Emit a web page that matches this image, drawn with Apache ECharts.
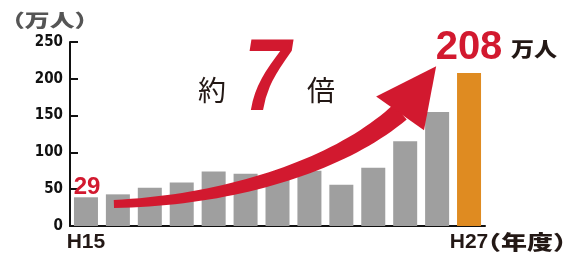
<!DOCTYPE html>
<html><head><meta charset="utf-8">
<script src="https://cdn.jsdelivr.net/npm/echarts@6/dist/echarts.min.js"></script>
<style>html,body{margin:0;padding:0;background:#fff}#c{width:567px;height:260px}</style>
</head><body><div id="c"></div>
<script>
// Data
var categories = ['H15','H16','H17','H18','H19','H20','H21','H22','H23','H24','H25','H26','H27'];
var values = [39, 43, 52, 59, 74, 71, 69, 75, 56, 79, 115, 155, 208];
var yTicks = [0, 50, 100, 150, 200, 250];
var startLabel = '29';
var endLabel = '208';
var unitLabel = '万人';
var yUnit = '（万人）';
var xUnit = '（年度）';
// arrow anchors in data space [category index, value]
var arrowCurve = [[0.875, 30], [4.53, 35], [7.97, 83], [9.84, 155]];
var arrowHead = [[9.09, 176], [10.97, 217], [10.59, 130]];

var RED = '#d2192f';
var CJK = '"Noto Sans CJK JP", "Noto Sans CJK SC", sans-serif';
var chart = echarts.init(document.getElementById('c'), null, {renderer: 'canvas'});
var last = categories.length - 1;
chart.setOption({
  animation: false,
  grid: {left: 70, right: 82, top: 42, bottom: 34},
  xAxis: {
    type: 'category', data: categories,
    axisLine: {lineStyle: {color: '#111', width: 2}},
    axisTick: {inside: true, length: 4, lineStyle: {color: '#111', width: 2}},
    axisLabel: {
      interval: 0, margin: 6, color: '#231815',
      fontFamily: '"Liberation Sans", Arial, sans-serif', fontWeight: 'bold', fontSize: 21,
      formatter: function (v, i) { return (i === 0 || i === last) ? v : ''; }
    }
  },
  yAxis: {
    type: 'value', min: yTicks[0], max: yTicks[yTicks.length - 1], interval: 50,
    axisLine: {show: true, lineStyle: {color: '#111', width: 2}},
    axisTick: {show: true, inside: true, length: 8, lineStyle: {color: '#111', width: 2}},
    splitLine: {show: false},
    axisLabel: {margin: 7, color: '#111', fontFamily: '"DejaVu Sans Condensed", "Liberation Sans", sans-serif', fontWeight: 'bold', fontSize: 15}
  },
  series: [{
    type: 'bar', barWidth: 24,
    data: values.map(function (v, i) {
      return {value: v, itemStyle: {color: i === last ? '#df8b21' : '#9f9f9f'}};
    })
  }]
});

function toPx(p) {
  var x0 = chart.convertToPixel({xAxisIndex: 0}, categories[0]);
  var x1 = chart.convertToPixel({xAxisIndex: 0}, categories[1]);
  var y = chart.convertToPixel({yAxisIndex: 0}, p[1]);
  return [x0 + p[0] * (x1 - x0), y];
}
var c = arrowCurve.map(toPx);
var h = arrowHead.map(toPx);
function bez(t, k) {
  var u = 1 - t;
  return u*u*u*c[0][k] + 3*u*u*t*c[1][k] + 3*u*t*t*c[2][k] + t*t*t*c[3][k];
}
function dbez(t, k) {
  var u = 1 - t;
  return 3*u*u*(c[1][k]-c[0][k]) + 6*u*t*(c[2][k]-c[1][k]) + 3*t*t*(c[3][k]-c[2][k]);
}
var left = [], right = [];
var N = 40;
for (var s = 0; s <= N; s++) {
  var t = s / N;
  var px = bez(t, 0), py = bez(t, 1);
  var dx = dbez(t, 0), dy = dbez(t, 1);
  var len = Math.sqrt(dx*dx + dy*dy);
  var nx = -dy / len, ny = dx / len;
  var w = 4 + 6 * t;
  left.push([px + nx*w, py + ny*w]);
  right.push([px - nx*w, py - ny*w]);
}
var band = left.concat(right.reverse());

chart.setOption({
  graphic: [
    {type: 'polygon', shape: {points: band}, style: {fill: RED}, z: 10},
    {type: 'polygon', shape: {points: h}, style: {fill: RED}, z: 10},
    {type: 'text', x: 0, y: 20, scaleX: 1.38, z: 20, style: {text: yUnit, fill: '#555', font: '900 18px ' + CJK, textAlign: 'left', textVerticalAlign: 'middle'}},
    {type: 'text', x: 475, y: 242, scaleX: 1.3, z: 20, style: {text: xUnit, fill: '#231815', font: '900 20px ' + CJK, textAlign: 'left', textVerticalAlign: 'middle'}},
    {type: 'text', x: 87, y: 187, z: 20, style: {text: startLabel, fill: RED, font: 'bold 24px "Liberation Sans", sans-serif', textAlign: 'center', textVerticalAlign: 'middle'}},
    {type: 'text', x: 469, y: 48, z: 20, style: {text: endLabel, fill: RED, font: 'bold 40px "Liberation Sans", sans-serif', textAlign: 'center', textVerticalAlign: 'middle'}},
    {type: 'text', x: 511, y: 49, scaleX: 1.15, z: 20, style: {text: unitLabel, fill: '#231815', font: '900 20px ' + CJK, textAlign: 'left', textVerticalAlign: 'middle'}},
    {type: 'text', x: 212, y: 90, z: 20, style: {text: '約', fill: '#231815', font: '28px ' + CJK, textAlign: 'center', textVerticalAlign: 'middle'}},
    {type: 'text', x: 267, y: 82, scaleX: 0.82, z: 20, style: {text: '7', fill: RED, font: 'italic bold 102px "Liberation Sans", sans-serif', textAlign: 'center', textVerticalAlign: 'middle'}},
    {type: 'text', x: 321, y: 90, z: 20, style: {text: '倍', fill: '#231815', font: '28px ' + CJK, textAlign: 'center', textVerticalAlign: 'middle'}}
  ]
});
</script></body></html>
